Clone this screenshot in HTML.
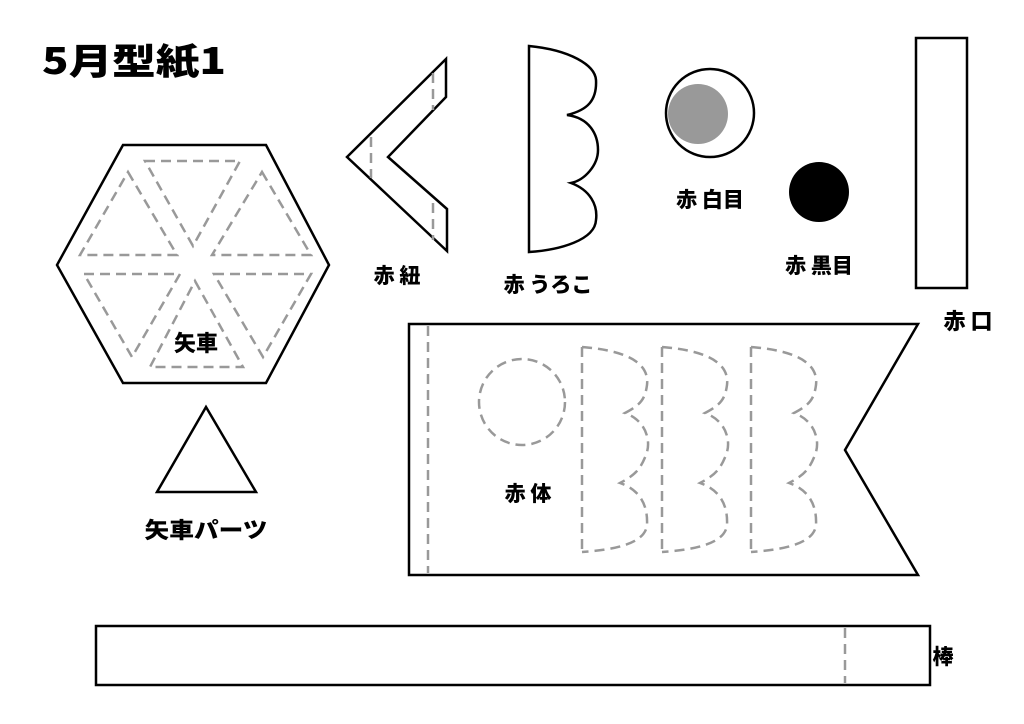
<!DOCTYPE html>
<html><head><meta charset="utf-8"><style>
html,body{margin:0;padding:0;background:#fff;}
svg{display:block}
text{font-family:"Noto Sans CJK JP","Liberation Sans",sans-serif;font-weight:900;fill:#000}
</style></head><body>
<svg width="1024" height="724" viewBox="0 0 1024 724" xmlns="http://www.w3.org/2000/svg">
<rect width="1024" height="724" fill="#fff"/>
<text x="42" y="74" font-size="36" textLength="184" lengthAdjust="spacingAndGlyphs">5月型紙1</text>

<!-- hexagon -->
<polygon points="57,265 123,145 266,145 329,265 266,383 123,383" fill="none" stroke="#000" stroke-width="2.5"/>
<g fill="none" stroke="#999" stroke-width="2.5" stroke-dasharray="10,6">
<polygon points="145,161 240,161 193,246"/>
<polygon points="128,172 177,255 80,255"/>
<polygon points="262,172 311,255 212,255"/>
<polygon points="84,274 180,274 132,357"/>
<polygon points="214,274 311,274 263,357"/>
<polygon points="195,281 243,367 150,367"/>
</g>
<text x="196" y="351" font-size="22" text-anchor="middle">矢車</text>

<polygon points="206,407 157,492 256,492" fill="none" stroke="#000" stroke-width="2.5"/>
<text x="206" y="538" font-size="22" text-anchor="middle" textLength="123" lengthAdjust="spacingAndGlyphs">矢車パーツ</text>

<!-- chevron -->
<polygon points="347,157 446,59 446,97 388,157 447,209 447,251" fill="none" stroke="#000" stroke-width="2.5"/>
<g stroke="#999" stroke-width="2.5" stroke-dasharray="10,6">
<line x1="433" y1="73" x2="433" y2="110"/>
<line x1="433" y1="203" x2="433" y2="240"/>
<line x1="371" y1="137" x2="371" y2="178"/>
</g>
<text x="397" y="283" font-size="21" text-anchor="middle">赤 紐</text>

<!-- scale -->
<path d="M529,46 C570,50 595,65 596,80 C597,100 588,110 567,115 C590,118 598,135 598,150 C598,165 585,180 571,183 C590,190 598,205 596,220 C595,240 560,250 529,252 Z" fill="none" stroke="#000" stroke-width="2.5"/>
<text x="548" y="292" font-size="21" text-anchor="middle">赤 うろこ</text>

<!-- eyes -->
<circle cx="710" cy="113" r="44" fill="#fff" stroke="#000" stroke-width="2.5"/>
<circle cx="698" cy="114" r="30" fill="#999"/>
<text x="710" y="207" font-size="21" text-anchor="middle">赤 白目</text>
<circle cx="819" cy="192" r="30" fill="#000"/>
<text x="819" y="273" font-size="21" text-anchor="middle">赤 黒目</text>

<!-- mouth -->
<rect x="916" y="38" width="51" height="250" fill="none" stroke="#000" stroke-width="2.5"/>
<text x="968" y="329" font-size="22" text-anchor="middle">赤 口</text>

<!-- body -->
<polygon points="409,324 918,324 845,450 918,575 409,575" fill="none" stroke="#000" stroke-width="2.5"/>
<g fill="none" stroke="#999" stroke-width="2.5" stroke-dasharray="10,6">
<line x1="428" y1="326" x2="428" y2="573"/>
<circle cx="522" cy="402" r="43"/>
<g id="sc">
<path d="M582,347 L582,552 M582,347 C620,350 650,360 647,385 C645,400 640,405 625,413 C645,420 652,440 646,455 C640,470 635,475 620,483 C640,490 648,505 647,525 C645,545 610,550 582,552"/>
</g>
<use href="#sc" x="80"/>
<use href="#sc" x="169"/>
</g>
<text x="528" y="501" font-size="21" text-anchor="middle">赤 体</text>

<!-- stick -->
<rect x="96" y="626" width="834" height="59" fill="none" stroke="#000" stroke-width="2.5"/>
<line x1="845" y1="628" x2="845" y2="683" stroke="#999" stroke-width="2.5" stroke-dasharray="10,6"/>
<text x="943" y="664" font-size="21" text-anchor="middle">棒</text>
</svg>
</body></html>
